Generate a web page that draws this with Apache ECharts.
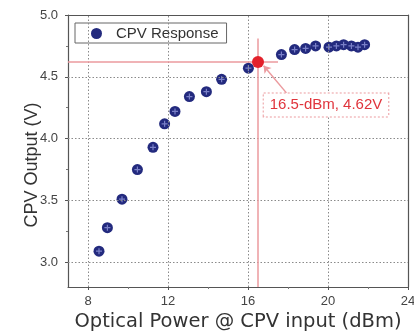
<!DOCTYPE html>
<html>
<head>
<meta charset="utf-8">
<script src="https://cdn.jsdelivr.net/npm/echarts@6/dist/echarts.min.js"></script>
<style>
  html, body { margin: 0; padding: 0; background: #fff; }
  #chart { width: 414px; height: 334px; }
</style>
</head>
<body>
<div id="chart"></div>
<script>
// measured CPV response (dBm, V)
const powerDbm = [8.55, 8.97, 9.7, 10.47, 11.25, 11.83, 12.35, 13.07, 13.92, 14.68, 16.02,
                  17.67, 18.33, 18.88, 19.38, 20.05, 20.42, 20.78, 21.17, 21.5, 21.83];
const outputV = [3.09, 3.28, 3.51, 3.75, 3.93, 4.12, 4.22, 4.34, 4.38, 4.48, 4.57,
                 4.68, 4.72, 4.73, 4.75, 4.74, 4.75, 4.76, 4.75, 4.74, 4.76];
// highlighted point
const markPower = 16.5;
const markV = 4.62;
const markText = '16.5-dBm, 4.62V';

const xTicks = [8, 12, 16, 20, 24];
const xMinor = [10, 14, 18, 22];
const yTicks = [3.0, 3.5, 4.0, 4.5, 5.0];
const yMinor = [3.25, 3.75, 4.25, 4.75];

const points = powerDbm.map((p, i) => [p, outputV[i]]);
const font = 'Liberation Sans, Arial, sans-serif';
const pink = '#eb9a9e';

const chart = echarts.init(document.getElementById('chart'));

const option = {
  backgroundColor: '#fff',
  animation: false,
  grid: { left: 68, right: 6, top: 15, bottom: 47, outerBoundsMode: 'none' },
  legend: {
    data: ['CPV Response'],
    left: 75, top: 23,
    padding: [3, 8, 2, 16],
    itemWidth: 11, itemHeight: 11,
    borderColor: '#666', borderWidth: 1,
    backgroundColor: '#fff',
    textStyle: { fontFamily: font, fontSize: 15, color: '#333', padding: [0, 0, 0, 9] }
  },
  xAxis: [
    {
      type: 'value', min: 7, max: 24,
      name: 'Optical Power @ CPV input (dBm)',
      nameLocation: 'middle', nameGap: 25, nameMoveOverlap: false,
      nameTextStyle: { fontFamily: 'DejaVu Sans, sans-serif', fontSize: 19.5, color: '#333' },
      axisLine: { lineStyle: { color: '#555', width: 1.2 } },
      axisTick: { show: true, length: 3, customValues: xTicks, lineStyle: { color: '#555' } },
      axisLabel: { customValues: xTicks, fontFamily: font, fontSize: 13, color: '#444', margin: 8 },
      splitLine: { show: false }
    },
    {
      type: 'value', min: 7, max: 24, position: 'top',
      axisLine: { show: true, lineStyle: { color: '#555', width: 1.2 } },
      axisTick: { show: false }, axisLabel: { show: false }, splitLine: { show: false }
    },
    {
      type: 'value', min: 7, max: 24, position: 'bottom',
      axisLine: { show: false },
      axisTick: { show: true, length: 2, customValues: xMinor, lineStyle: { color: '#777' } },
      axisLabel: { show: false }, splitLine: { show: false }
    }
  ],
  yAxis: [
    {
      type: 'value', min: 2.8, max: 5.0,
      name: 'CPV Output (V)',
      nameLocation: 'middle', nameGap: 27, nameMoveOverlap: false,
      nameTextStyle: { fontFamily: font, fontSize: 18, color: '#333', padding: [0, 0, 0, -28] },
      axisLine: { show: true, lineStyle: { color: '#555', width: 1.2 } },
      axisTick: { show: true, length: 3, customValues: yTicks, lineStyle: { color: '#555' } },
      axisLabel: {
        customValues: yTicks, fontFamily: font, fontSize: 13, color: '#444', margin: 10,
        formatter: v => v.toFixed(1)
      },
      splitLine: { show: false }
    },
    {
      type: 'value', min: 2.8, max: 5.0, position: 'right',
      axisLine: { show: true, lineStyle: { color: '#555', width: 1.2 } },
      axisTick: { show: false }, axisLabel: { show: false }, splitLine: { show: false }
    },
    {
      type: 'value', min: 2.8, max: 5.0, position: 'left',
      axisLine: { show: false },
      axisTick: { show: true, length: 2, customValues: yMinor, lineStyle: { color: '#777' } },
      axisLabel: { show: false }, splitLine: { show: false }
    }
  ],
  series: [
    {
      // dotted grid at the major ticks
      type: 'scatter',
      data: [],
      silent: true,
      z: 1,
      markLine: {
        silent: true,
        symbol: 'none',
        label: { show: false },
        lineStyle: { color: '#8a8a8a', type: [1.5, 2], width: 1 },
        data: xTicks.slice(0, -1).map(v => ({ xAxis: v }))
          .concat(yTicks.slice(0, -1).map(v => ({ yAxis: v })))
      }
    },
    {
      name: 'CPV Response',
      type: 'scatter',
      data: points,
      symbol: 'circle',
      symbolSize: 11,
      itemStyle: { color: '#232a7e', opacity: 1 },
      z: 3
    },
    {
      // small cross inside each marker
      type: 'scatter',
      data: points,
      silent: true,
      symbol: 'path://M4,0H6V4H10V6H6V10H4V6H0V4H4Z',
      symbolSize: 6,
      itemStyle: { color: '#7a80c8', opacity: 1 },
      z: 4
    },
    {
      type: 'scatter',
      data: [[markPower, markV]],
      symbol: 'circle',
      symbolSize: 12,
      itemStyle: { color: '#e3212b', opacity: 1 },
      z: 5,
      markLine: {
        silent: true,
        symbol: 'none',
        label: { show: false },
        lineStyle: { color: pink, type: 'solid', width: 1.5, opacity: 1 },
        data: [
          [{ coord: [7, markV] }, { coord: [17.5, markV] }],
          [{ coord: [markPower, 4.81] }, { coord: [markPower, 2.8] }],
          [
            { coord: [17.92, 4.37], symbol: 'none' },
            { coord: [16.78, 4.59], symbol: 'arrow', symbolSize: 7 }
          ]
        ]
      },
      markPoint: {
        silent: true,
        symbol: 'circle', symbolSize: 0,
        data: [{ coord: [markPower, markV] }],
        label: {
          show: true,
          formatter: markText,
          position: 'inside',
          offset: [68, 43],
          fontFamily: font, fontSize: 15, color: '#e0343c',
          borderColor: pink, borderWidth: 1, borderType: [2, 2],
          padding: [4, 6],
          backgroundColor: '#fff'
        }
      }
    }
  ]
};

chart.setOption(option);
</script>
</body>
</html>
